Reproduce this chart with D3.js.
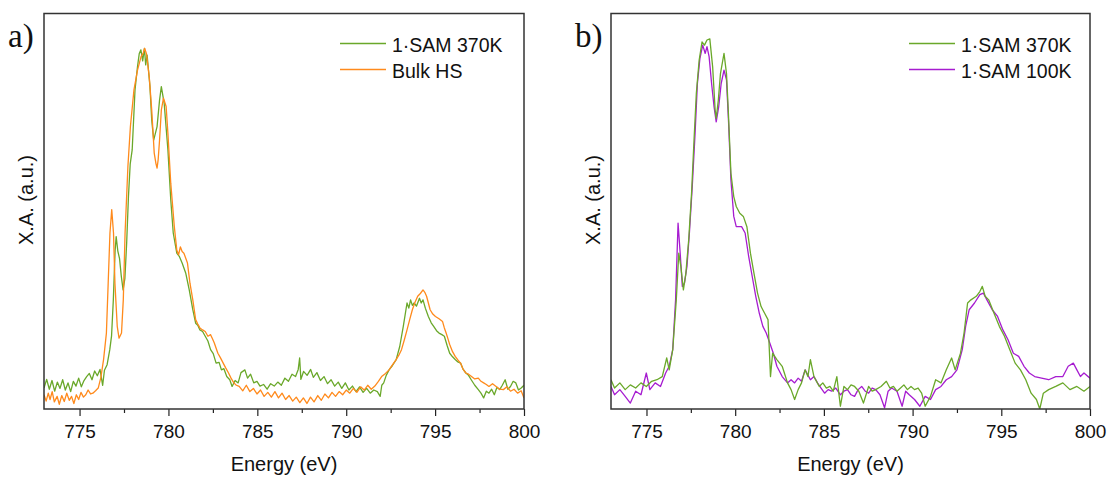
<!DOCTYPE html>
<html><head><meta charset="utf-8">
<script src="https://cdn.jsdelivr.net/npm/d3@7"></script>
<style>body{margin:0;background:#fff}svg{display:block}text{font-family:Arial,"Liberation Sans",sans-serif;fill:#111}</style>
</head><body><svg id="c" width="1110" height="477"></svg>
<script>
const xTicks = [775, 780, 785, 790, 795, 800];
const xMinor = [777.5, 782.5, 787.5, 792.5, 797.5];
const panelLabels = ["a)", "b)"];
const legendA = ["1·SAM 370K", "Bulk HS"];
const legendB = ["1·SAM 370K", "1·SAM 100K"];
const colors = {green:"#6aa82a", orange:"#ff8a1c", purple:"#a61cd0"};

const samA370 = [[773.00,0.053],[773.15,0.075],[773.30,0.050],[773.45,0.072],[773.60,0.045],[773.75,0.068],[773.90,0.052],[774.05,0.074],[774.20,0.048],[774.35,0.066],[774.50,0.044],[774.65,0.070],[774.80,0.058],[774.95,0.078],[775.10,0.056],[775.25,0.072],[775.40,0.082],[775.55,0.090],[775.70,0.074],[775.85,0.096],[776.00,0.084],[776.15,0.100],[776.30,0.060],[776.40,0.098],[776.55,0.112],[776.70,0.150],[776.80,0.185],[776.90,0.276],[777.00,0.400],[777.06,0.436],[777.15,0.400],[777.25,0.380],[777.35,0.335],[777.45,0.301],[777.55,0.330],[777.65,0.420],[777.75,0.537],[777.85,0.620],[777.96,0.655],[778.12,0.807],[778.26,0.866],[778.36,0.899],[778.45,0.908],[778.55,0.880],[778.65,0.912],[778.72,0.870],[778.80,0.895],[778.96,0.815],[779.06,0.730],[779.17,0.680],[779.36,0.714],[779.50,0.781],[779.60,0.815],[779.76,0.773],[779.97,0.655],[780.13,0.529],[780.27,0.445],[780.47,0.394],[780.62,0.385],[780.77,0.369],[780.97,0.344],[781.17,0.301],[781.37,0.251],[781.53,0.217],[781.65,0.212],[781.77,0.200],[781.92,0.196],[782.07,0.184],[782.22,0.172],[782.37,0.150],[782.52,0.140],[782.68,0.116],[782.85,0.118],[782.98,0.099],[783.12,0.102],[783.28,0.082],[783.45,0.074],[783.58,0.057],[783.75,0.072],[783.92,0.066],[784.08,0.092],[784.30,0.099],[784.45,0.078],[784.62,0.088],[784.80,0.066],[784.98,0.070],[785.15,0.058],[785.35,0.062],[785.55,0.050],[785.75,0.064],[785.95,0.058],[786.15,0.068],[786.35,0.060],[786.55,0.078],[786.75,0.070],[786.95,0.088],[787.15,0.082],[787.30,0.100],[787.38,0.129],[787.45,0.075],[787.60,0.095],[787.80,0.085],[788.00,0.100],[788.15,0.080],[788.35,0.092],[788.55,0.072],[788.75,0.082],[788.95,0.064],[789.15,0.074],[789.35,0.058],[789.55,0.068],[789.75,0.052],[789.95,0.066],[790.15,0.048],[790.35,0.058],[790.55,0.044],[790.75,0.056],[790.95,0.042],[791.15,0.052],[791.35,0.040],[791.55,0.048],[791.75,0.044],[791.91,0.032],[792.00,0.060],[792.11,0.066],[792.25,0.085],[792.41,0.099],[792.60,0.110],[792.81,0.125],[793.01,0.158],[793.21,0.209],[793.42,0.268],[793.52,0.255],[793.62,0.276],[793.72,0.262],[793.82,0.268],[793.95,0.260],[794.12,0.280],[794.22,0.268],[794.32,0.276],[794.45,0.255],[794.62,0.234],[794.78,0.218],[794.92,0.209],[795.08,0.198],[795.22,0.192],[795.38,0.188],[795.52,0.184],[795.68,0.160],[795.82,0.141],[795.98,0.132],[796.13,0.125],[796.28,0.119],[796.43,0.116],[796.58,0.100],[796.73,0.091],[796.88,0.085],[797.03,0.074],[797.23,0.060],[797.43,0.049],[797.58,0.040],[797.73,0.028],[797.88,0.045],[798.03,0.040],[798.18,0.050],[798.33,0.036],[798.48,0.055],[798.63,0.049],[798.78,0.060],[798.94,0.074],[799.09,0.050],[799.24,0.057],[799.39,0.070],[799.54,0.066],[799.69,0.048],[799.84,0.053],[800.00,0.060]];

const bulkHS = [[773.00,0.036],[773.12,0.020],[773.24,0.040],[773.34,0.024],[773.46,0.044],[773.58,0.018],[773.74,0.032],[773.86,0.012],[774.00,0.034],[774.14,0.019],[774.28,0.040],[774.42,0.022],[774.55,0.032],[774.68,0.014],[774.82,0.036],[774.95,0.024],[775.08,0.042],[775.22,0.030],[775.35,0.036],[775.48,0.048],[775.62,0.038],[775.75,0.040],[775.90,0.046],[776.05,0.053],[776.20,0.080],[776.35,0.125],[776.51,0.192],[776.61,0.318],[776.71,0.445],[776.81,0.504],[776.91,0.445],[776.99,0.318],[777.12,0.209],[777.22,0.179],[777.36,0.192],[777.46,0.276],[777.56,0.445],[777.72,0.613],[777.86,0.714],[778.06,0.807],[778.26,0.857],[778.46,0.891],[778.58,0.900],[778.66,0.912],[778.76,0.899],[778.92,0.840],[779.06,0.756],[779.20,0.647],[779.30,0.620],[779.36,0.609],[779.42,0.630],[779.50,0.680],[779.60,0.756],[779.72,0.786],[779.87,0.765],[779.97,0.697],[780.13,0.571],[780.33,0.461],[780.47,0.402],[780.57,0.390],[780.67,0.410],[780.77,0.398],[780.87,0.394],[781.07,0.369],[781.21,0.318],[781.37,0.276],[781.53,0.226],[781.65,0.215],[781.77,0.205],[781.92,0.200],[782.07,0.196],[782.22,0.184],[782.37,0.188],[782.47,0.178],[782.58,0.167],[782.78,0.141],[782.92,0.130],[783.08,0.116],[783.22,0.104],[783.38,0.091],[783.52,0.078],[783.68,0.066],[783.82,0.060],[783.98,0.057],[784.18,0.046],[784.38,0.060],[784.58,0.044],[784.78,0.052],[784.98,0.038],[785.18,0.048],[785.38,0.032],[785.59,0.042],[785.79,0.030],[785.99,0.044],[786.19,0.028],[786.39,0.040],[786.59,0.024],[786.79,0.034],[786.99,0.020],[787.19,0.030],[787.39,0.016],[787.59,0.028],[787.79,0.014],[787.99,0.030],[788.19,0.018],[788.40,0.034],[788.60,0.022],[788.80,0.038],[789.00,0.028],[789.20,0.042],[789.40,0.032],[789.60,0.044],[789.80,0.036],[790.00,0.048],[790.20,0.040],[790.40,0.052],[790.60,0.042],[790.81,0.056],[791.01,0.048],[791.21,0.060],[791.41,0.050],[791.61,0.058],[791.81,0.070],[792.01,0.083],[792.21,0.090],[792.41,0.099],[792.61,0.112],[792.81,0.125],[792.96,0.136],[793.11,0.150],[793.27,0.175],[793.42,0.200],[793.57,0.226],[793.72,0.251],[793.87,0.270],[794.02,0.285],[794.17,0.292],[794.32,0.301],[794.42,0.295],[794.52,0.285],[794.62,0.268],[794.72,0.251],[794.87,0.240],[795.02,0.234],[795.22,0.228],[795.42,0.221],[795.52,0.205],[795.62,0.192],[795.72,0.178],[795.82,0.163],[795.98,0.145],[796.13,0.133],[796.28,0.124],[796.43,0.116],[796.58,0.100],[796.73,0.091],[796.88,0.088],[797.03,0.083],[797.23,0.076],[797.43,0.078],[797.58,0.070],[797.73,0.066],[797.88,0.062],[798.03,0.057],[798.23,0.064],[798.43,0.057],[798.63,0.050],[798.84,0.049],[799.04,0.056],[799.24,0.045],[799.44,0.050],[799.64,0.040],[799.84,0.046],[800.00,0.028]];

const samB370 = [[773.00,0.074],[773.20,0.053],[773.50,0.066],[773.80,0.049],[774.09,0.061],[774.39,0.053],[774.69,0.066],[774.99,0.057],[775.29,0.070],[775.59,0.074],[775.89,0.082],[776.14,0.129],[776.28,0.099],[776.48,0.150],[776.68,0.276],[776.82,0.394],[776.94,0.360],[777.08,0.301],[777.22,0.343],[777.38,0.428],[777.54,0.545],[777.68,0.680],[777.81,0.798],[777.97,0.882],[778.13,0.928],[778.27,0.920],[778.41,0.933],[778.57,0.936],[778.73,0.865],[778.87,0.756],[778.93,0.735],[779.05,0.781],[779.17,0.848],[779.37,0.899],[779.51,0.848],[779.61,0.756],[779.76,0.596],[779.92,0.537],[780.06,0.512],[780.26,0.495],[780.46,0.487],[780.66,0.461],[780.86,0.394],[781.06,0.343],[781.26,0.293],[781.46,0.259],[781.66,0.242],[781.85,0.226],[781.99,0.082],[782.11,0.141],[782.35,0.125],[782.65,0.108],[782.95,0.066],[783.15,0.049],[783.35,0.024],[783.55,0.049],[783.74,0.066],[783.94,0.099],[784.10,0.082],[784.24,0.125],[784.44,0.082],[784.74,0.057],[784.94,0.066],[785.14,0.053],[785.34,0.057],[785.53,0.045],[785.73,0.082],[785.93,0.007],[786.13,0.057],[786.33,0.049],[786.53,0.061],[786.73,0.057],[786.97,0.045],[787.23,0.015],[787.52,0.057],[787.72,0.045],[787.92,0.049],[788.22,0.057],[788.52,0.070],[788.72,0.053],[788.92,0.057],[789.12,0.045],[789.32,0.053],[789.51,0.061],[789.71,0.049],[789.91,0.057],[790.11,0.049],[790.31,0.053],[790.51,0.040],[790.71,0.007],[791.01,0.032],[791.30,0.074],[791.60,0.066],[791.90,0.099],[792.20,0.129],[792.40,0.099],[792.70,0.141],[792.90,0.192],[793.10,0.268],[793.29,0.276],[793.59,0.285],[793.79,0.297],[793.93,0.310],[794.09,0.285],[794.29,0.276],[794.59,0.242],[794.89,0.209],[795.18,0.184],[795.48,0.150],[795.78,0.116],[796.08,0.099],[796.38,0.074],[796.68,0.040],[796.98,0.024],[797.17,0.000],[797.37,0.040],[797.67,0.049],[798.07,0.057],[798.47,0.066],[798.87,0.049],[799.26,0.057],[799.66,0.045],[800.00,0.057]];

const samB100 = [[773.00,0.057],[773.20,0.036],[773.50,0.049],[773.80,0.032],[774.09,0.015],[774.39,0.045],[774.69,0.036],[774.99,0.091],[775.19,0.049],[775.49,0.066],[775.79,0.057],[776.08,0.091],[776.28,0.108],[776.48,0.150],[776.64,0.276],[776.78,0.470],[776.90,0.394],[777.02,0.310],[777.14,0.318],[777.28,0.360],[777.42,0.445],[777.58,0.562],[777.74,0.697],[777.87,0.823],[778.01,0.886],[778.17,0.920],[778.31,0.899],[778.41,0.916],[778.53,0.891],[778.67,0.823],[778.81,0.764],[778.93,0.726],[779.07,0.764],[779.21,0.823],[779.37,0.857],[779.51,0.832],[779.63,0.722],[779.76,0.579],[779.92,0.487],[780.06,0.461],[780.36,0.461],[780.56,0.445],[780.76,0.386],[780.96,0.335],[781.16,0.285],[781.36,0.242],[781.56,0.209],[781.75,0.192],[781.95,0.167],[782.15,0.141],[782.35,0.108],[782.65,0.082],[782.95,0.066],[783.15,0.074],[783.35,0.066],[783.55,0.078],[783.74,0.070],[783.94,0.099],[784.24,0.074],[784.44,0.082],[784.64,0.066],[784.84,0.053],[785.04,0.040],[785.24,0.049],[785.44,0.045],[785.67,0.053],[785.93,0.036],[786.13,0.045],[786.33,0.049],[786.53,0.036],[786.73,0.032],[786.93,0.049],[787.13,0.057],[787.33,0.045],[787.52,0.040],[787.72,0.053],[787.92,0.049],[788.16,0.036],[788.42,0.003],[788.62,0.045],[788.82,0.053],[789.12,0.045],[789.41,0.007],[789.61,0.045],[789.81,0.036],[790.11,0.024],[790.41,0.007],[790.71,0.032],[791.01,0.024],[791.30,0.049],[791.60,0.057],[791.90,0.074],[792.20,0.082],[792.50,0.099],[792.80,0.150],[792.99,0.209],[793.19,0.251],[793.49,0.268],[793.79,0.289],[793.99,0.293],[794.19,0.276],[794.49,0.251],[794.79,0.234],[795.09,0.200],[795.38,0.175],[795.68,0.141],[795.98,0.133],[796.28,0.108],[796.58,0.091],[796.88,0.082],[797.27,0.078],[797.67,0.074],[798.07,0.082],[798.47,0.082],[798.77,0.108],[799.06,0.116],[799.26,0.099],[799.46,0.082],[799.66,0.091],[800.00,0.078]];

const panels = [
  {left:44, right:524, label:panelLabels[0], series:[{d:samA370,c:colors.green},{d:bulkHS,c:colors.orange}], legend:legendA, legendColors:[colors.green,colors.orange], legX:340},
  {left:611, right:1090, label:panelLabels[1], series:[{d:samB100,c:colors.purple},{d:samB370,c:colors.green}], legend:legendB, legendColors:[colors.green,colors.purple], legX:909}
];
const plotTop = 13.5, plotBottom = 409;
const svg = d3.select("#c");

panels.forEach(p => {
  const x = d3.scaleLinear().domain([773, 800]).range([p.left, p.right]);
  const y = d3.scaleLinear().domain([0, 1]).range([plotBottom, plotTop]);
  const g = svg.append("g");
  const line = d3.line().x(d => x(d[0])).y(d => y(d[1]));
  const clipId = "clip" + p.left;
  g.append("clipPath").attr("id", clipId).append("rect")
    .attr("x", p.left).attr("y", plotTop).attr("width", p.right - p.left).attr("height", plotBottom - plotTop);
  p.series.forEach(s => {
    g.append("path").datum(s.d).attr("d", line).attr("fill", "none")
      .attr("stroke", s.c).attr("stroke-width", 1.3).attr("stroke-linejoin", "round")
      .attr("clip-path", `url(#${clipId})`);
  });
  const ax = g.append("g").attr("transform", `translate(0,${plotBottom})`)
    .call(d3.axisBottom(x).tickValues(xTicks).tickFormat(d3.format("d")).tickSize(7).tickPadding(9));
  ax.select(".domain").remove();
  ax.selectAll("line").attr("stroke", "#222").attr("stroke-width", 1.2);
  ax.selectAll("text").style("font-size", "19px").attr("fill", "#111");
  const axm = g.append("g").attr("transform", `translate(0,${plotBottom})`)
    .call(d3.axisBottom(x).tickValues(xMinor).tickFormat("").tickSize(4));
  axm.select(".domain").remove();
  axm.selectAll("line").attr("stroke", "#222").attr("stroke-width", 1.2);
  g.append("rect").attr("x", p.left).attr("y", plotTop).attr("width", p.right - p.left).attr("height", plotBottom - plotTop)
    .attr("fill", "none").attr("stroke", "#333").attr("stroke-width", 1.5);
  g.append("text").attr("x", (p.left + p.right) / 2).attr("y", 471).attr("text-anchor", "middle")
    .style("font-size", "20px").text("Energy (eV)");
  g.append("text").attr("transform", `translate(${p.left - 11},${200}) rotate(-90)`).attr("text-anchor", "middle")
    .style("font-size", "20px").text("X.A. (a.u.)");
  g.append("text").attr("x", p.left - 36).attr("y", 47).style("font-family", "'Liberation Serif','Times New Roman',serif")
    .style("font-size", "33px").text(p.label);
  p.legend.forEach((t, i) => {
    const ly = 43.5 + i * 26;
    g.append("line").attr("x1", p.legX).attr("x2", p.legX + 46).attr("y1", ly).attr("y2", ly)
      .attr("stroke", p.legendColors[i]).attr("stroke-width", 1.5);
    g.append("text").attr("x", p.legX + 52).attr("y", ly + 8).style("font-size", "19.5px").text(t);
  });
});
</script></body></html>
